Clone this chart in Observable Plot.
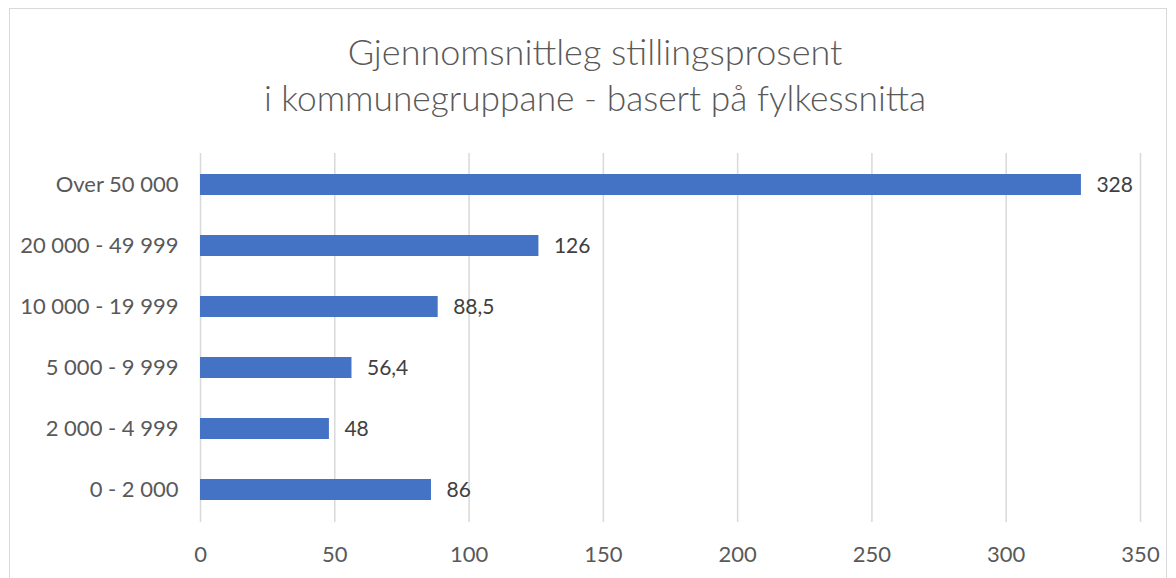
<!DOCTYPE html>
<html>
<head>
<meta charset="utf-8">
<script src="https://cdn.jsdelivr.net/npm/d3@7"></script>
<script src="https://cdn.jsdelivr.net/npm/@observablehq/plot@0.6"></script>
<style>
  html, body { margin: 0; padding: 0; background: #fff; width: 1176px; height: 578px; overflow: hidden; }
  #frame { position: absolute; left: 9px; top: 8px; width: 1158px; height: 600px; border: 1px solid #d9d9d9; box-sizing: border-box; }
  #title { position: absolute; left: 0; top: 28px; width: 1190px; text-align: center; font-family: Lato, "Open Sans", sans-serif; font-weight: 300; font-size: 36px; line-height: 46px; color: #595959; }
  #title .l2 { font-size: 35.3px; }
  #chart { position: absolute; left: 0; top: 150px; }
  #chart svg { font-family: Lato, "Open Sans", sans-serif; }
</style>
</head>
<body>
<div id="frame"></div>
<div id="title">Gjennomsnittleg stillingsprosent<br><span class="l2">i kommunegruppane - basert på fylkessnitta</span></div>
<div id="chart"></div>
<script>
const categories = ["Over 50 000", "20 000 - 49 999", "10 000 - 19 999", "5 000 - 9 999", "2 000 - 4 999", "0 - 2 000"];
const values = [328, 126, 88.5, 56.4, 48, 86];
const xTicks = [0, 50, 100, 150, 200, 250, 300, 350];

const data = categories.map((c, i) => ({category: c, value: values[i]}));
const fmt = v => String(v).replace(".", ",");

const chart = Plot.plot({
  width: 1176,
  height: 428,
  marginLeft: 200,
  marginRight: 36,
  marginTop: 3,
  marginBottom: 56,
  style: {fontSize: "22px", color: "#595959", background: "transparent"},
  x: {domain: [0, 350], ticks: xTicks, label: null},
  y: {domain: categories, paddingInner: 0.65, paddingOuter: 0.325, label: null},
  marks: [
    Plot.ruleX(xTicks, {stroke: "#d9d9d9", strokeWidth: 1.5}),
    Plot.barX(data, {y: "category", x: "value", fill: "#4472C4"}),
    Plot.text(data, {y: "category", x: "value", text: d => fmt(d.value), textAnchor: "start", dx: 15, fill: "#404040", fontSize: 21}),
    Plot.axisX({ticks: xTicks, tickSize: 0, tickPadding: 24, fill: "#595959", fontSize: 22, tickFormat: d => String(d)}),
    Plot.axisY({tickSize: 0, tickPadding: 22, fill: "#595959", fontSize: 22})
  ]
});
document.getElementById("chart").appendChild(chart);
</script>
</body>
</html>
